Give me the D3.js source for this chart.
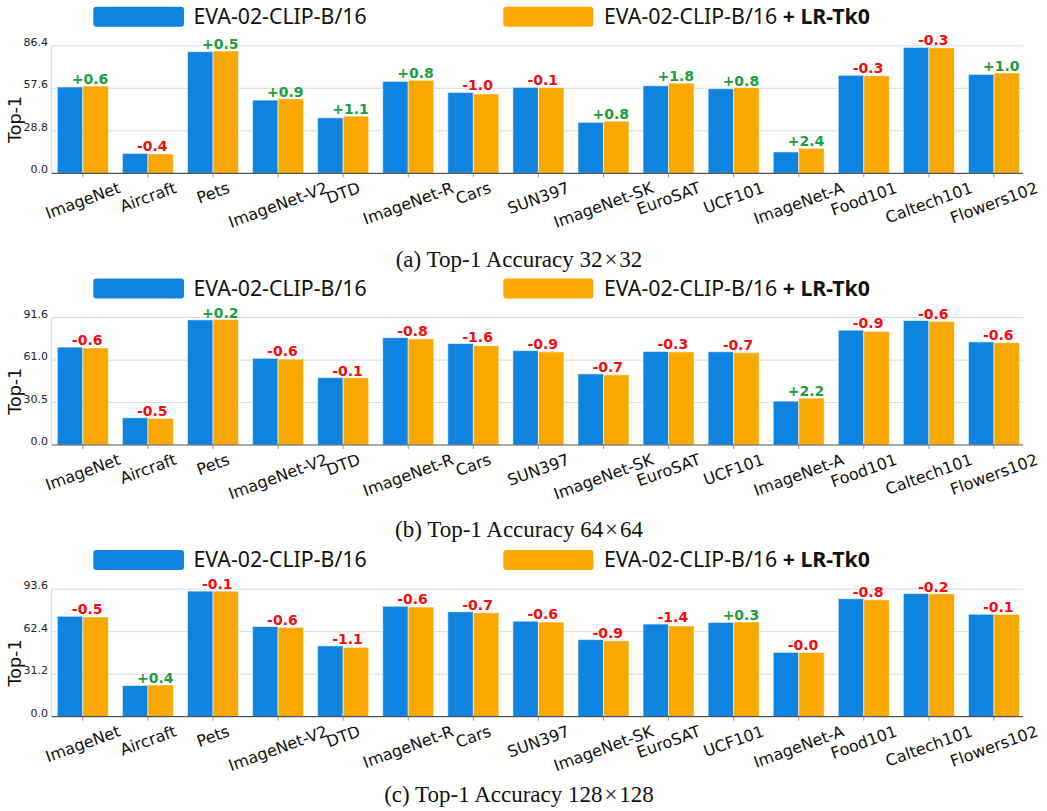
<!DOCTYPE html>
<html>
<head>
<meta charset="utf-8">
<script src="https://cdn.jsdelivr.net/npm/d3@7"></script>
<style>
  body { margin: 0; background: #fff; }
  svg { display: block; }
</style>
</head>
<body>
<svg id="chart" width="1047" height="811"></svg>
<script>
// Benchmarks on the x axis
const categories = ["ImageNet", "Aircraft", "Pets", "ImageNet-V2", "DTD", "ImageNet-R", "Cars",
  "SUN397", "ImageNet-SK", "EuroSAT", "UCF101", "ImageNet-A", "Food101", "Caltech101", "Flowers102"];

// Series names
const baseName = "EVA-02-CLIP-B/16";
const suffixName = " + LR-Tk0";

// Top-1 accuracy, 32x32 input
const baseline32 = [58.5, 13.5, 82.4, 49.6, 37.6, 62.3, 54.8, 58.2, 34.5, 59.3, 57.3, 14.5, 66.4, 85.3, 67.0];
const lrtk32     = [59.1, 13.1, 82.9, 50.5, 38.7, 63.1, 53.8, 58.1, 35.3, 61.1, 58.1, 16.9, 66.1, 85.0, 68.0];
// Top-1 accuracy, 64x64 input
const baseline64 = [70.3, 19.6, 89.9, 62.3, 48.4, 77.1, 72.9, 67.8, 51.1, 67.2, 67.0, 31.5, 82.5, 89.4, 74.1];
const lrtk64     = [69.7, 19.1, 90.1, 61.7, 48.3, 76.3, 71.3, 66.9, 50.4, 66.9, 66.3, 33.7, 81.6, 88.8, 73.5];
// Top-1 accuracy, 128x128 input
const baseline128 = [73.7, 22.9, 92.2, 66.2, 52.0, 81.1, 77.0, 70.1, 56.6, 68.0, 69.2, 47.2, 86.6, 90.4, 75.2];
const lrtk128     = [73.2, 23.3, 92.1, 65.6, 50.9, 80.5, 76.3, 69.5, 55.7, 66.6, 69.5, 47.18, 85.8, 90.2, 75.1];

// Y tick labels per panel
const ticks32 = ["0.0", "28.8", "57.6", "86.4"];
const ticks64 = ["0.0", "30.5", "61.0", "91.6"];
const ticks128 = ["0.0", "31.2", "62.4", "93.6"];

// Sub-captions
const captions = [
  ["(a) Top-1 Accuracy ", "32", "32"],
  ["(b) Top-1 Accuracy ", "64", "64"],
  ["(c) Top-1 Accuracy ", "128", "128"]
];

const BLUE = "#0e84e0";
const ORANGE = "#f8a800";
const GREEN = "#1a9f3c";
const RED = "#fa0a0a";

const svg = d3.select("#chart");

const panels = [
  { blue: baseline32, orange: lrtk32, ticks: ticks32, caption: captions[0], bottom: 173.3, capY: 266.5 },
  { blue: baseline64, orange: lrtk64, ticks: ticks64, caption: captions[1], bottom: 445.0, capY: 536.5 },
  { blue: baseline128, orange: lrtk128, ticks: ticks128, caption: captions[2], bottom: 716.7, capY: 802 }
];

const plotH = 127.5;
const axisLeft = 51.7, axisRight = 1023;
const x = d3.scaleBand().domain(categories).range([50.3, 1026.5]).padding(0);
const barW = 25.5;
const fmtDelta = d => (d < 0 ? "-" : "+") + Math.abs(d).toFixed(1);

panels.forEach(p => {
  const g = svg.append("g");
  const tickVals = p.ticks.map(Number);
  const y = d3.scaleLinear()
    .domain([0, tickVals[tickVals.length - 1]])
    .range([p.bottom, p.bottom - plotH]);

  // horizontal grid
  g.append("g").selectAll("line")
    .data(tickVals.slice(1))
    .join("line")
    .attr("x1", axisLeft).attr("x2", axisRight)
    .attr("y1", d => y(d)).attr("y2", d => y(d))
    .attr("stroke", "#d6dde6").attr("stroke-width", 1);

  // left spine (light)
  g.append("line")
    .attr("x1", axisLeft).attr("x2", axisLeft)
    .attr("y1", y.range()[1]).attr("y2", p.bottom)
    .attr("stroke", "#cdd5de").attr("stroke-width", 1);

  // bars
  const rows = categories.map((c, i) => ({ c, a: p.blue[i], b: p.orange[i] }));
  const cx = d => x(d.c) + x.bandwidth() / 2;

  g.append("g").selectAll("rect")
    .data(rows)
    .join("rect")
    .attr("x", d => cx(d) - barW)
    .attr("y", d => y(d.a))
    .attr("width", barW)
    .attr("height", d => y(0) - y(d.a))
    .attr("fill", BLUE)
    .attr("stroke", "rgba(255,255,255,0.55)").attr("stroke-width", 1);

  g.append("g").selectAll("rect")
    .data(rows)
    .join("rect")
    .attr("x", d => cx(d))
    .attr("y", d => y(d.b))
    .attr("width", barW)
    .attr("height", d => y(0) - y(d.b))
    .attr("fill", ORANGE)
    .attr("stroke", "rgba(255,255,255,0.55)").attr("stroke-width", 1);

  // difference labels
  g.append("g").selectAll("text")
    .data(rows)
    .join("text")
    .attr("x", d => cx(d) - 11)
    .attr("y", d => y(Math.max(d.a, d.b)) - 2)
    .attr("font-family", "DejaVu Sans")
    .attr("font-weight", "bold")
    .attr("font-size", 14)
    .attr("fill", d => (d.b - d.a) < 0 ? RED : GREEN)
    .text(d => fmtDelta(d.b - d.a));

  // x axis
  const ax = g.append("g")
    .attr("transform", `translate(0,${p.bottom})`)
    .call(d3.axisBottom(x).tickSize(4).tickSizeOuter(0));
  ax.select(".domain").remove();
  ax.selectAll(".tick line").attr("stroke", "#9a9a9a");
  const fs = 16, ang = 20 * Math.PI / 180;
  ax.selectAll(".tick text")
    .attr("font-family", "DejaVu Sans")
    .attr("font-size", fs)
    .attr("fill", "#111")
    .attr("text-anchor", "middle")
    .attr("dy", null)
    .attr("x", 0)
    .attr("y", 0.346 * fs)
    .each(function () {
      const L = this.getComputedTextLength();
      const bh = L * Math.sin(ang) + 1.164 * fs * Math.cos(ang);
      d3.select(this).attr("transform", `translate(0,${5 + bh / 2}) rotate(-20)`);
    });

  // bottom spine
  g.append("line")
    .attr("x1", axisLeft).attr("x2", axisRight)
    .attr("y1", p.bottom).attr("y2", p.bottom)
    .attr("stroke", "#555").attr("stroke-width", 1.2);

  // y tick labels
  g.append("g").selectAll("text")
    .data(p.ticks)
    .join("text")
    .attr("x", 48)
    .attr("y", d => y(+d))
    .attr("text-anchor", "end")
    .attr("font-family", "DejaVu Sans")
    .attr("font-size", 11)
    .attr("fill", "#222")
    .text(d => d);

  // y axis title
  g.append("text")
    .attr("transform", `translate(21,${p.bottom - plotH / 2 + 10}) rotate(-90)`)
    .attr("text-anchor", "middle")
    .attr("font-family", "DejaVu Sans")
    .attr("font-size", 17.5)
    .attr("fill", "#111")
    .text("Top-1");

  // legend
  const ly = p.bottom - 166.6;
  g.append("rect").attr("x", 93.3).attr("y", ly).attr("width", 90.7).attr("height", 20)
    .attr("rx", 3).attr("fill", BLUE);
  g.append("text").attr("x", 193.5).attr("y", ly + 17.3)
    .attr("font-family", "Noto Sans").attr("font-size", 21.3).attr("fill", "#111")
    .text(baseName);
  g.append("rect").attr("x", 503.3).attr("y", ly).attr("width", 90).attr("height", 20)
    .attr("rx", 3).attr("fill", ORANGE);
  const lt = g.append("text").attr("x", 604).attr("y", ly + 17.3)
    .attr("font-family", "Noto Sans").attr("font-size", 21.3).attr("fill", "#111");
  lt.append("tspan").text(baseName);
  lt.append("tspan").attr("font-weight", "bold").text(suffixName);

  // caption
  const cap = g.append("text")
    .attr("x", 519).attr("y", p.capY)
    .attr("text-anchor", "middle")
    .attr("font-family", "Liberation Serif")
    .attr("font-size", 23)
    .attr("fill", "#111");
  cap.append("tspan").text(p.caption[0]);
  cap.append("tspan").text(p.caption[1] + "\u200a×\u200a" + p.caption[2]);
});
</script>
</body>
</html>
